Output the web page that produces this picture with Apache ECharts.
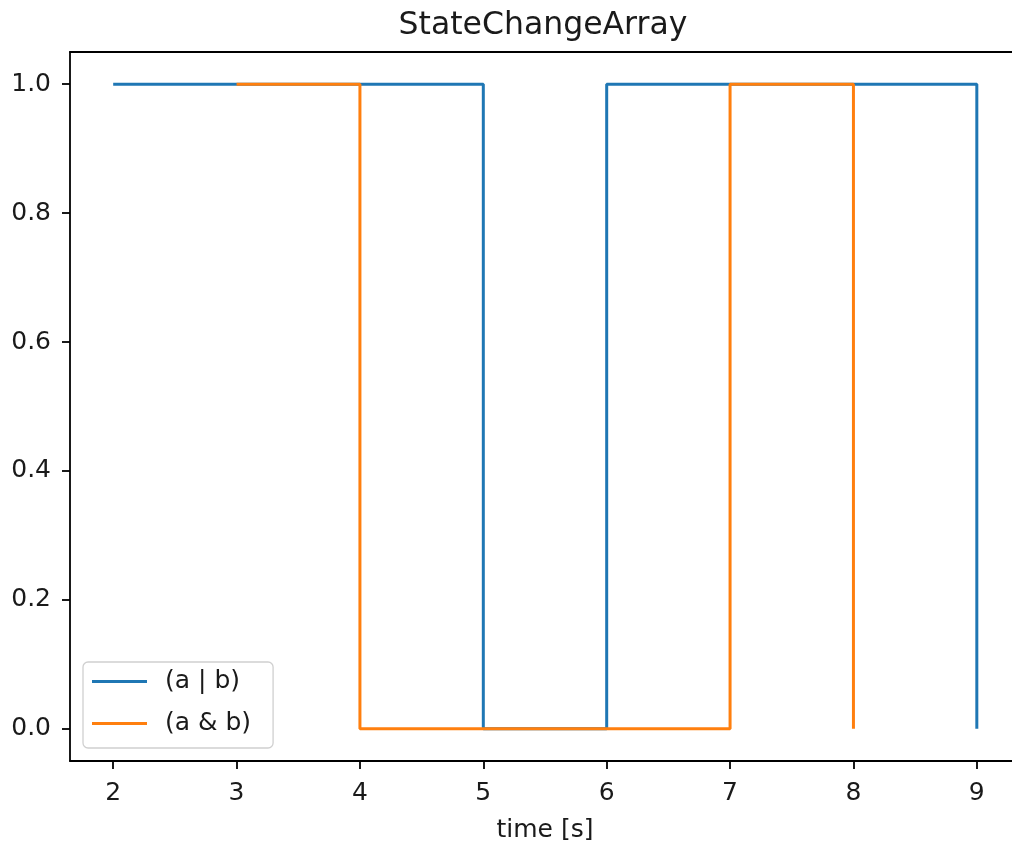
<!DOCTYPE html>
<html>
<head>
<meta charset="utf-8">
<script src="https://cdn.jsdelivr.net/npm/echarts@6/dist/echarts.min.js"></script>
<style>
  html, body { margin: 0; padding: 0; background: #fff; }
  #chart { width: 1012px; height: 849px; }
</style>
</head>
<body>
<div id="chart"></div>
<script>
// Boolean state signals over time, drawn as post-steps
const titleText = 'StateChangeArray';
const xLabel = 'time [s]';
const orTimes = [2, 3, 4, 5, 6, 7, 8, 9];
const orValues = [1, 1, 1, 0, 1, 1, 1, 0];
const andTimes = [3, 4, 5, 6, 7, 8];
const andValues = [1, 0, 0, 0, 1, 0];
const seriesNames = ['(a | b)', '(a & b)'];
const seriesColors = ['#1f77b4', '#ff7f0e'];
const xTicks = [2, 3, 4, 5, 6, 7, 8, 9];
const yTicks = [0, 0.2, 0.4, 0.6, 0.8, 1.0];

const pairs = (xs, ys) => xs.map((x, i) => [x, ys[i]]);

const chart = echarts.init(document.getElementById('chart'), null, { renderer: 'canvas' });
const font = 'DejaVu Sans';
const ink = '#1a1a1a';
const spine = { color: '#000', width: 1.8 };

// x range: 5% margins around [2, 9]; the frame runs past the right edge of the canvas
const xMin = 1.65, xMax = 9.35;

chart.setOption({
  animation: false,
  backgroundColor: '#fff',
  textStyle: { fontFamily: font },
  title: {
    text: titleText,
    left: 538,
    top: 5,
    textAlign: 'center',
    textStyle: { fontFamily: font, fontSize: 31.5, fontWeight: 'normal', color: ink }
  },
  grid: { left: 70, top: 52, width: 950, height: 709, show: false, outerBoundsMode: 'none', containLabel: false },
  legend: {
    data: seriesNames,
    orient: 'vertical',
    left: 83, top: 662,
    padding: [7, 22, 12, 9],
    itemGap: 17,
    itemWidth: 55,
    itemHeight: 3,
    icon: 'rect',
    borderColor: '#d0d0d0',
    borderWidth: 1.3,
    borderRadius: 5,
    backgroundColor: 'rgba(255,255,255,0.8)',
    textStyle: { fontFamily: font, fontSize: 25, color: ink, padding: [0, 0, 0, 13] }
  },
  xAxis: [
    {
      type: 'value',
      min: xMin, max: xMax,
      interval: 1,
      name: xLabel,
      nameLocation: 'middle',
      nameGap: 57,
      nameTextStyle: { fontFamily: font, fontSize: 25, color: ink },
      axisLine: { show: true, onZero: false, lineStyle: spine },
      axisTick: { show: true, length: 8, lineStyle: spine, customValues: xTicks },
      axisLabel: { fontFamily: font, fontSize: 25, color: ink, margin: 20, customValues: xTicks },
      splitLine: { show: false }
    },
    {
      // top frame edge
      type: 'value', position: 'top',
      min: xMin, max: xMax,
      axisLine: { show: true, onZero: false, lineStyle: spine },
      axisTick: { show: false }, axisLabel: { show: false }, splitLine: { show: false }
    }
  ],
  yAxis: {
    type: 'value',
    min: -0.05, max: 1.05,
    axisLine: { show: true, onZero: false, lineStyle: spine },
    axisTick: { show: true, length: 8, lineStyle: spine, customValues: yTicks },
    axisLabel: {
      fontFamily: font, fontSize: 25, color: ink, margin: 19,
      customValues: yTicks,
      formatter: v => v.toFixed(1)
    },
    splitLine: { show: false }
  },
  series: [
    {
      name: seriesNames[0], type: 'line', step: 'end', symbol: 'none', xAxisIndex: 0,
      data: pairs(orTimes, orValues),
      lineStyle: { color: seriesColors[0], width: 3 },
      itemStyle: { color: seriesColors[0] }
    },
    {
      name: seriesNames[1], type: 'line', step: 'end', symbol: 'none', xAxisIndex: 0,
      data: pairs(andTimes, andValues),
      lineStyle: { color: seriesColors[1], width: 3 },
      itemStyle: { color: seriesColors[1] }
    }
  ]
});
</script>
</body>
</html>
